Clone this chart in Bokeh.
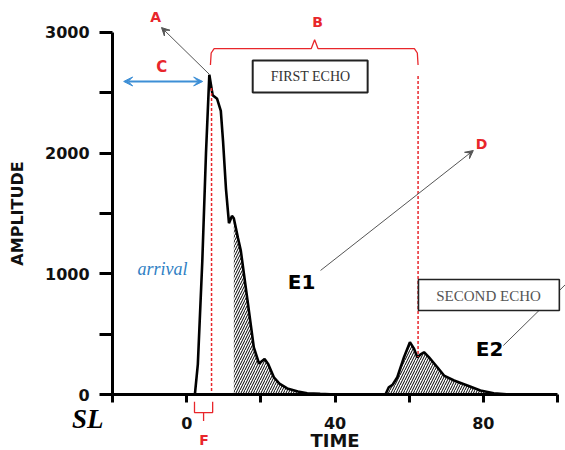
from bokeh.plotting import figure
from bokeh.models import (LinearAxis, FixedTicker, Range1d, Label, Arrow,
                          VeeHead, BoxAnnotation)
from bokeh.embed import file_html
from bokeh.resources import INLINE

# ---- data ----
time = [-20, 0, 2.2, 3.0, 4.2, 5.2, 6.1, 7.0, 8.2, 9.2, 9.8, 10.6, 11.4, 12.2,
        12.7, 13.8, 14.6, 16.4, 18.1, 19.5, 21.0, 22.0, 23.5, 25.0, 27.1, 30.0,
        32.5, 36.0, 40.0, 53.6, 54.5, 55.5, 56.8, 58.6, 60.2, 61.3, 62.2, 63.0,
        64.0, 65.3, 67.6, 69.4, 72.1, 75.7, 79.2, 82.8, 87.3]
amplitude = [0, 0, 0, 250, 1100, 2000, 2650, 2480, 2450, 2350, 2100, 1700, 1420,
             1480, 1460, 1300, 1190, 780, 390, 257, 295, 250, 143, 90, 50, 25,
             11, 5, 0, 0, 60, 80, 143, 309, 433, 380, 309, 330, 350, 309, 226,
             157, 116, 75, 33, 11, 0]
first_echo_hatch = (12.7, 40.0)
second_echo_hatch = (53.6, 87.3)

x_ticks = [-20, 0, 20, 40, 60, 80, 100]
x_tick_labels = {-20: "", 0: "0", 20: "", 40: "40", 60: "", 80: "80", 100: ""}
y_ticks = [0, 500, 1000, 1500, 2000, 2500, 3000]
y_tick_labels = {0: "0", 500: "", 1000: "1000", 1500: "", 2000: "2000",
                 2500: "", 3000: "3000"}

RED = "#e8262b"
BLUE = "#3d8fd6"
GREY = "#555555"
SANS = "DejaVu Sans"
SERIF = "Liberation Serif"

p = figure(width=565, height=450, x_range=Range1d(-50.22, 102.16),
           y_range=Range1d(-464, 3265), x_axis_type=None, y_axis_type=None,
           output_backend="svg", toolbar_location=None, min_border=0)
p.outline_line_color = None
p.xgrid.visible = False
p.ygrid.visible = False

xaxis = LinearAxis(fixed_location=0, bounds=(-20, 100),
                   ticker=FixedTicker(ticks=x_ticks),
                   major_label_overrides=x_tick_labels,
                   axis_label="TIME")
xaxis.axis_line_width = 3
xaxis.major_tick_line_width = 3
xaxis.major_tick_out = 8
xaxis.major_tick_in = 0
xaxis.minor_tick_line_color = None
xaxis.major_label_text_font = SANS
xaxis.major_label_text_font_style = "bold"
xaxis.major_label_text_font_size = "16px"
xaxis.major_label_text_color = "#111111"
xaxis.major_label_standoff = 14
xaxis.axis_label_text_font = SANS
xaxis.axis_label_text_font_style = "bold"
xaxis.axis_label_text_font_size = "18px"
xaxis.axis_label_text_color = "#111111"
xaxis.axis_label_standoff = -2
p.add_layout(xaxis, "below")

yaxis = LinearAxis(fixed_location=-20, bounds=(0, 3000),
                   ticker=FixedTicker(ticks=y_ticks),
                   major_label_overrides=y_tick_labels,
                   axis_label="AMPLITUDE")
yaxis.axis_line_width = 3
yaxis.major_tick_line_width = 3
yaxis.major_tick_out = 13
yaxis.major_tick_in = 0
yaxis.minor_tick_line_color = None
yaxis.major_label_text_font = SANS
yaxis.major_label_text_font_style = "bold"
yaxis.major_label_text_font_size = "16px"
yaxis.major_label_text_color = "#111111"
yaxis.major_label_standoff = 10
yaxis.axis_label_text_font = SANS
yaxis.axis_label_text_font_style = "bold"
yaxis.axis_label_text_font_size = "16px"
yaxis.axis_label_text_color = "#111111"
yaxis.axis_label_standoff = 15
p.add_layout(yaxis, "left")

# hatched echo areas
for lo, hi in (first_echo_hatch, second_echo_hatch):
    xs = [t for t in time if lo <= t <= hi]
    ys = [a for t, a in zip(time, amplitude) if lo <= t <= hi]
    p.varea(x=xs, y1=[0] * len(xs), y2=ys, fill_color=None,
            hatch_pattern="/", hatch_color="black", hatch_scale=5,
            hatch_weight=1)

# signal curve
p.line(time, amplitude, line_color="black", line_width=2.6)

# red dashed markers
p.line([6.7, 6.7], [2540, 0], line_color=RED, line_dash="3 2", line_width=1.5)
p.line([62.4, 62.4], [2640, 310], line_color=RED, line_dash="3 2", line_width=1.5)

# brace B
p.line([6.4, 6.6, 7.4, 33.6, 34.5, 35.4, 61.4, 62.2, 62.4],
       [2730, 2830, 2867, 2867, 2940, 2867, 2867, 2830, 2730],
       line_color=RED, line_width=1.3)
# brace F
p.line([2.1, 2.1, 4.55, 4.55, 4.55, 7.0, 7.0],
       [-60, -150, -150, -220, -150, -150, -60],
       line_color=RED, line_width=1.3)

# arrows
p.add_layout(Arrow(end=VeeHead(size=8, fill_color=GREY, line_color=GREY),
                   x_start=6.15, y_start=2652, x_end=-6.8, y_end=3041,
                   line_color=GREY, line_width=1))
p.add_layout(Arrow(start=VeeHead(size=9, fill_color=BLUE, line_color=BLUE),
                   end=VeeHead(size=9, fill_color=BLUE, line_color=BLUE),
                   x_start=-17.0, y_start=2594, x_end=4.3, y_end=2594,
                   line_color=BLUE, line_width=2))
p.add_layout(Arrow(end=VeeHead(size=8, fill_color=GREY, line_color=GREY),
                   x_start=36.1, y_start=1028, x_end=77.3, y_end=2022,
                   line_color=GREY, line_width=1))
p.line([85.4, 102.7], [406, 928], line_color=GREY, line_width=1)

# echo boxes
p.add_layout(BoxAnnotation(left=17.8, right=48.8, bottom=2503, top=2768,
                           fill_color="white", fill_alpha=1,
                           line_color="#222222", line_alpha=1, line_width=2))
p.add_layout(BoxAnnotation(left=62.5, right=100.5, bottom=696, top=953,
                           fill_color="white", fill_alpha=1,
                           line_color="#222222", line_alpha=1, line_width=1.6))


def lab(x, y, text, size, color="black", font=SANS, style="bold"):
    p.add_layout(Label(x=x, y=y, text=text, text_font=font,
                       text_font_style=style, text_font_size=size,
                       text_color=color, text_align="center",
                       text_baseline="middle"))


lab(33.4, 2635, "FIRST ECHO", "14px", "#333333", SERIF, "normal")
lab(81.4, 820, "SECOND ECHO", "15px", "#555555", SERIF, "normal")
lab(-8.4, 3132, "A", "14px", RED)
lab(35.3, 3083, "B", "14px", RED)
lab(-6.7, 2710, "C", "15px", RED)
lab(79.5, 2072, "D", "14px", RED)
lab(4.7, -375, "F", "14px", RED)
lab(31.0, 936, "E1", "20px")
lab(81.7, 381, "E2", "20px")
lab(-6.5, 1040, "arrival", "18px", "#2f7fc4", SERIF, "italic")
lab(-26.7, -199, "SL", "27px", "black", SERIF, "bold italic")

open("out.html", "w").write(file_html(p, INLINE))
